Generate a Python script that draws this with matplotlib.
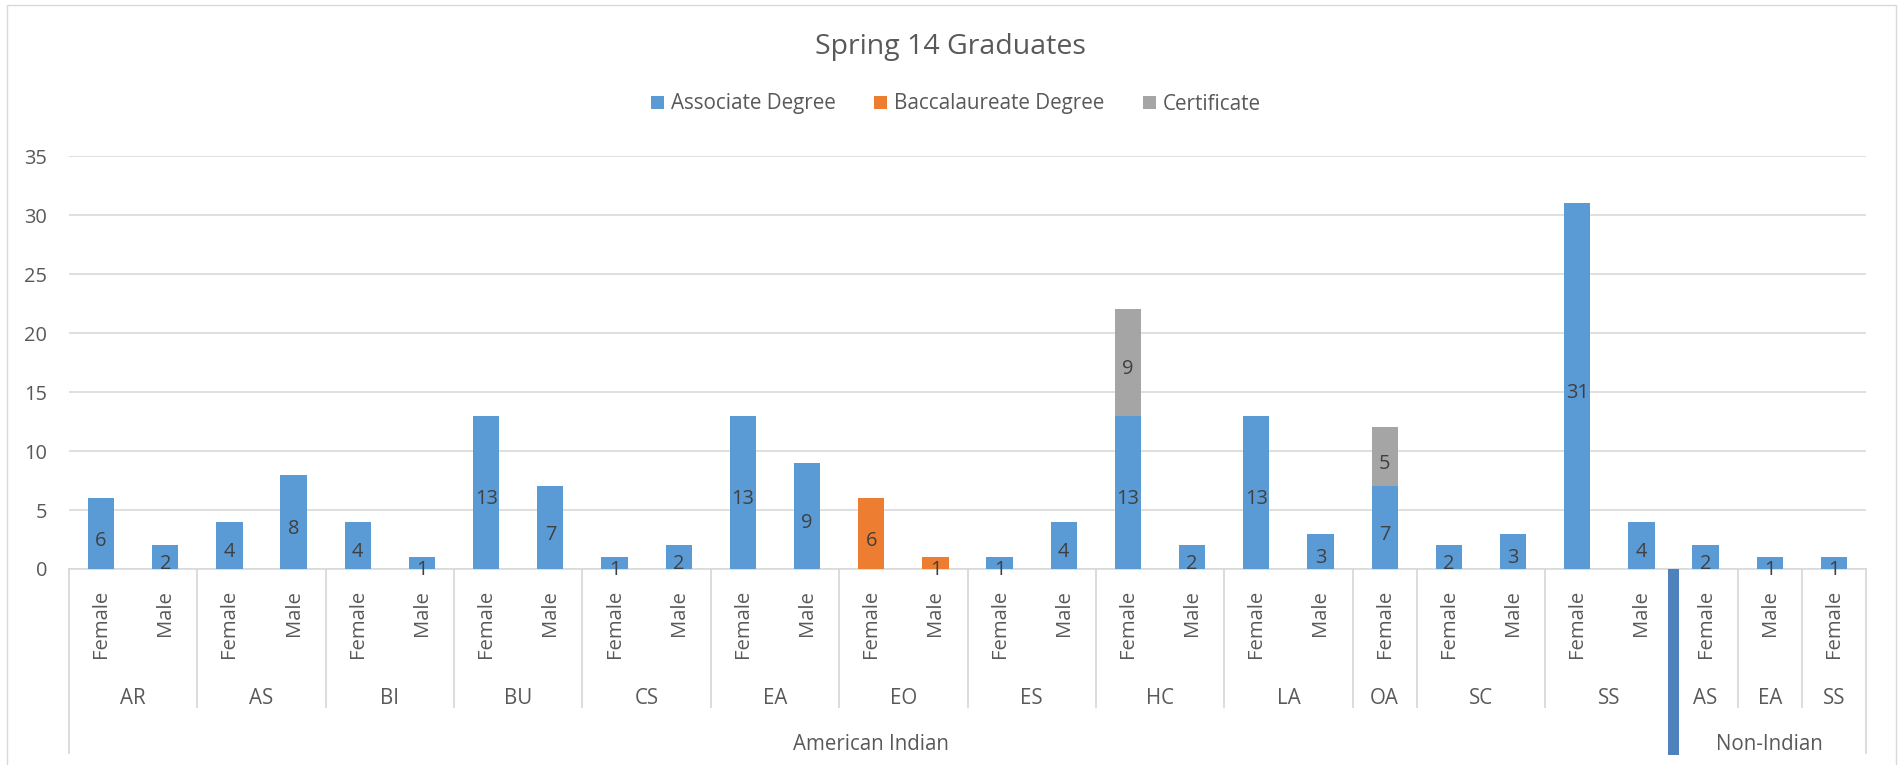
import matplotlib
matplotlib.use("Agg")
import matplotlib.pyplot as plt
from matplotlib.patches import Rectangle
import numpy as np

# ---- data ----
genders = ["Female", "Male", "Female", "Male", "Female", "Male", "Female", "Male",
           "Female", "Male", "Female", "Male", "Female", "Male", "Female", "Male",
           "Female", "Male", "Female", "Male", "Female", "Female", "Male", "Female", "Male",
           "Female", "Male", "Female"]
programs = ["AR", "AS", "BI", "BU", "CS", "EA", "EO", "ES", "HC", "LA", "OA", "SC", "SS",
            "AS", "EA", "SS"]
program_sizes = [2, 2, 2, 2, 2, 2, 2, 2, 2, 2, 1, 2, 2, 1, 1, 1]
groups = ["American Indian", "Non-Indian"]
group_sizes = [25, 3]

associate = [6, 2, 4, 8, 4, 1, 13, 7, 1, 2, 13, 9, 0, 0, 1, 4, 13, 2, 13, 3, 7, 2, 3, 31, 4, 2, 1, 1]
baccalaureate = [0, 0, 0, 0, 0, 0, 0, 0, 0, 0, 0, 0, 6, 1, 0, 0, 0, 0, 0, 0, 0, 0, 0, 0, 0, 0, 0, 0]
certificate = [0, 0, 0, 0, 0, 0, 0, 0, 0, 0, 0, 0, 0, 0, 0, 0, 9, 0, 0, 0, 5, 0, 0, 0, 0, 0, 0, 0]

series_names = ["Associate Degree", "Baccalaureate Degree", "Certificate"]
colors = ["#5B9BD5", "#ED7D31", "#A5A5A5"]

TXT = "#595959"
GRID = "#D9D9D9"
FONT = "Open Sans"
plt.rcParams["font.family"] = [FONT, "DejaVu Sans"]

W, H = 1902, 765
fig = plt.figure(figsize=(W / 100, H / 100), dpi=100)

# outer chart border
fig.patches.append(Rectangle((7 / W, -0.01), (1896 - 7) / W, 1.01 - 5 / H,
                             transform=fig.transFigure, fill=False,
                             edgecolor=GRID, linewidth=1.0))

left, right, top, bottom = 69, 1866, 156, 569
ax = fig.add_axes([left / W, 1 - bottom / H, (right - left) / W, (bottom - top) / H])

x = np.arange(len(genders))
bw = 0.41
series = [associate, baccalaureate, certificate]
base = np.zeros(len(x))
handles = []
for vals, col, name in zip(series, colors, series_names):
    v = np.array(vals, dtype=float)
    b = ax.bar(x, v, bw, bottom=base, color=col, label=name, zorder=3)
    handles.append(b)
    for xi, vi, bi in zip(x, v, base):
        if vi > 0:
            ax.annotate(f"{int(vi)}", (xi, bi + vi / 2), xytext=(0, -5),
                        textcoords="offset points", ha="center", va="center",
                        fontsize=14.4, color="#404040", zorder=5)
    base = base + v

ax.set_xlim(-0.5, len(x) - 0.5)
ax.set_ylim(0, 35)
ax.set_yticks(np.arange(0, 36, 5))
ax.yaxis.grid(True, color=GRID, linewidth=1.2, zorder=0)
ax.set_axisbelow(True)
for s in ["top", "right", "left"]:
    ax.spines[s].set_visible(False)
ax.spines["bottom"].set_color(GRID)
ax.spines["bottom"].set_linewidth(1.2)
ax.tick_params(axis="y", length=0, pad=15.5, labelsize=14.4, labelcolor=TXT)
ax.set_xticks(x)
ax.set_xticklabels(genders, rotation=90, fontsize=14.6, color=TXT)
ax.tick_params(axis="x", length=0, pad=15)

tr = ax.get_xaxis_transform()
ah = bottom - top

def yf(py):
    return (bottom - py) / ah

# program level labels and dividers
pos = 0
bounds_prog = [0]
for name, n in zip(programs, program_sizes):
    ax.text(pos + n / 2 - 0.5, yf(698), name, transform=tr, ha="center", va="center",
            fontsize=14.8, color=TXT, clip_on=False)
    pos += n
    bounds_prog.append(pos)

bounds_group = [0]
pos = 0
for name, n in zip(groups, group_sizes):
    ax.text(pos + n / 2 - 0.5, yf(745), name, transform=tr, ha="center", va="center",
            fontsize=14.8, color=TXT, clip_on=False)
    pos += n
    bounds_group.append(pos)

for bpos in bounds_prog:
    yb = 753 if bpos in bounds_group else 707
    ax.plot([bpos - 0.5, bpos - 0.5], [0, yf(yb)], transform=tr, color=GRID,
            linewidth=1.3, clip_on=False, zorder=1)

# dark selection-like bar at group boundary
bpos = bounds_group[1] - 0.5
ax.add_patch(Rectangle((bpos - 0.08, yf(755)), 0.16, yf(569) - yf(755), transform=tr,
                       facecolor="#4F81BD", edgecolor="none", clip_on=False, zorder=4))

# title
fig.text(950 / W, 1 - 47 / H, "Spring 14 Graduates", ha="center", va="center",
         fontsize=20.5, color=TXT)

# legend
fig.legend(handles=handles, labels=series_names, loc="center",
           bbox_to_anchor=(956 / W, 1 - 104 / H), ncol=3, frameon=False,
           fontsize=14.9, handlelength=0.62, handleheight=0.62, handletextpad=0.35,
           columnspacing=1.85, labelcolor=TXT)

fig.savefig("out.png", dpi=100)
